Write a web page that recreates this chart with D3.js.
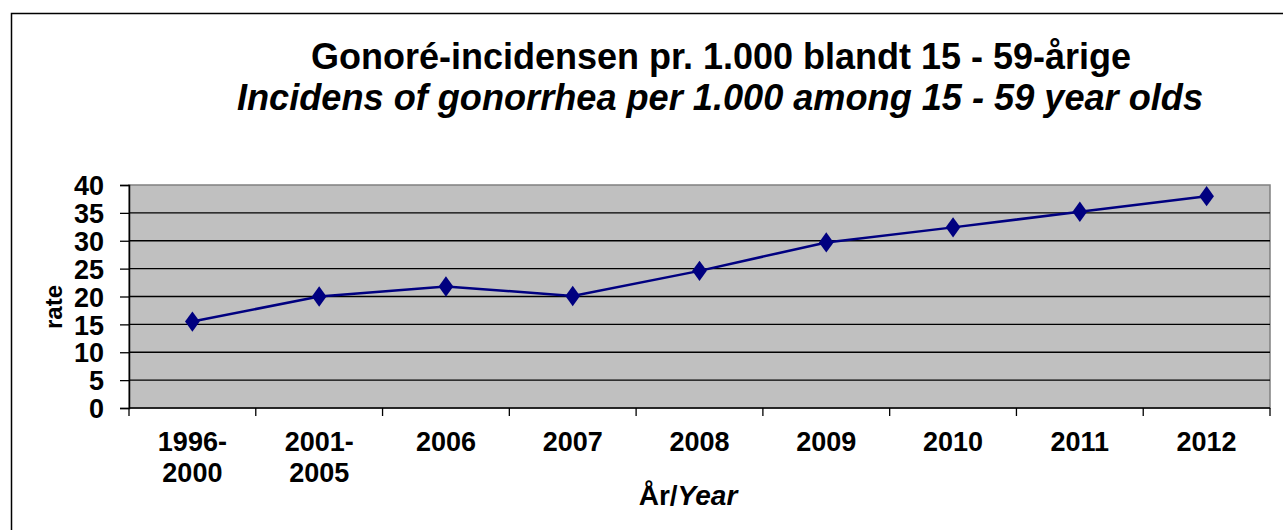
<!DOCTYPE html>
<html>
<head>
<meta charset="utf-8">
<script src="https://cdn.jsdelivr.net/npm/d3@7"></script>
<style>
  html, body { margin: 0; padding: 0; background: #fff; }
  svg { display: block; font-family: "Liberation Sans", Arial, sans-serif; }
</style>
</head>
<body>
<svg id="chart" width="1283" height="530"></svg>
<script>
// Gonorrhea incidence per 1,000 among 15-59 year olds
const categories = [["1996-", "2000"], ["2001-", "2005"], ["2006"], ["2007"], ["2008"], ["2009"], ["2010"], ["2011"], ["2012"]];
const rates = [15.5, 20.0, 21.8, 20.1, 24.6, 29.7, 32.4, 35.2, 38.0];
const yTicks = [0, 5, 10, 15, 20, 25, 30, 35, 40];
const titleDa = "Gonoré-incidensen pr. 1.000 blandt 15 - 59-årige";
const titleEn = "Incidens of gonorrhea per 1.000 among 15 - 59 year olds";

const svg = d3.select("#chart");
const plot = { left: 129, right: 1270, top: 185, bottom: 408 };

// chart frame
svg.append("rect")
  .attr("x", 11.5).attr("y", 13.5)
  .attr("width", 1300).attr("height", 600)
  .attr("fill", "#fff").attr("stroke", "#000").attr("stroke-width", 1.5);

// titles
svg.append("text")
  .attr("x", 721).attr("y", 69)
  .attr("text-anchor", "middle")
  .attr("font-size", 36).attr("font-weight", "bold")
  .attr("textLength", 820).attr("lengthAdjust", "spacingAndGlyphs")
  .text(titleDa);
svg.append("text")
  .attr("x", 720).attr("y", 110)
  .attr("text-anchor", "middle")
  .attr("font-size", 36).attr("font-weight", "bold").attr("font-style", "italic")
  .attr("textLength", 966).attr("lengthAdjust", "spacingAndGlyphs")
  .text(titleEn);

const x = d3.scaleBand()
  .domain(d3.range(categories.length))
  .range([plot.left, plot.right])
  .padding(0);
const y = d3.scaleLinear().domain([0, 40]).range([plot.bottom, plot.top]);

// plot area
svg.append("rect")
  .attr("x", plot.left).attr("y", plot.top)
  .attr("width", plot.right - plot.left).attr("height", plot.bottom - plot.top)
  .attr("fill", "#c0c0c0").attr("stroke", "#808080").attr("stroke-width", 1.5);

// horizontal gridlines
svg.append("g").selectAll("line")
  .data(yTicks.filter(d => d > 0 && d < 40))
  .join("line")
  .attr("x1", plot.left).attr("x2", plot.right)
  .attr("y1", d => y(d)).attr("y2", d => y(d))
  .attr("stroke", "#000").attr("stroke-width", 1.3);

// y axis
const yAxis = svg.append("g")
  .attr("transform", `translate(${plot.left},0)`)
  .call(d3.axisLeft(y).tickValues(yTicks).tickSize(9).tickPadding(16));
yAxis.select(".domain").attr("stroke", "#000").attr("stroke-width", 1.5);
yAxis.selectAll(".tick line").attr("stroke", "#000").attr("stroke-width", 1.3);
yAxis.selectAll(".tick text")
  .attr("font-size", 27).attr("font-weight", "bold").attr("fill", "#000")
  .attr("font-family", "'Liberation Sans', Arial, sans-serif")
  .attr("dy", "0.36em");

// x axis with ticks at category boundaries
const boundaries = d3.range(categories.length + 1).map(i => plot.left + i * x.bandwidth());
const xAxis = svg.append("g");
xAxis.append("line")
  .attr("x1", plot.left).attr("x2", plot.right)
  .attr("y1", plot.bottom).attr("y2", plot.bottom)
  .attr("stroke", "#000").attr("stroke-width", 1.5);
xAxis.selectAll("line.tk")
  .data(boundaries)
  .join("line").attr("class", "tk")
  .attr("x1", d => d).attr("x2", d => d)
  .attr("y1", plot.bottom).attr("y2", plot.bottom + 8)
  .attr("stroke", "#000").attr("stroke-width", 1.3);
const xl = xAxis.selectAll("text.cat")
  .data(categories)
  .join("text").attr("class", "cat")
  .attr("x", (d, i) => x(i) + x.bandwidth() / 2)
  .attr("y", 451)
  .attr("text-anchor", "middle")
  .attr("font-size", 27).attr("font-weight", "bold");
xl.selectAll("tspan")
  .data(d => d)
  .join("tspan")
  .attr("x", function () { return d3.select(this.parentNode).attr("x"); })
  .attr("dy", (d, i) => i === 0 ? 0 : 31)
  .text(d => d);

// axis titles
const xt = svg.append("text")
  .attr("x", 688).attr("y", 505)
  .attr("text-anchor", "middle")
  .attr("font-size", 28).attr("font-weight", "bold");
xt.append("tspan").text("År/");
xt.append("tspan").attr("font-style", "italic").text("Year");

svg.append("text")
  .attr("transform", "translate(62,307) rotate(-90)")
  .attr("text-anchor", "middle")
  .attr("font-size", 24).attr("font-weight", "bold")
  .text("rate");

// series line and markers
const line = d3.line()
  .x((d, i) => x(i) + x.bandwidth() / 2)
  .y(d => y(d));
svg.append("path")
  .datum(rates)
  .attr("d", line)
  .attr("fill", "none").attr("stroke", "#000080").attr("stroke-width", 2.5);
svg.append("g").selectAll("path")
  .data(rates)
  .join("path")
  .attr("d", d3.symbol().type(d3.symbolDiamond).size(120))
  .attr("transform", (d, i) => `translate(${x(i) + x.bandwidth() / 2},${y(d)}) scale(1.25,1)`)
  .attr("fill", "#000080");
</script>
</body>
</html>
